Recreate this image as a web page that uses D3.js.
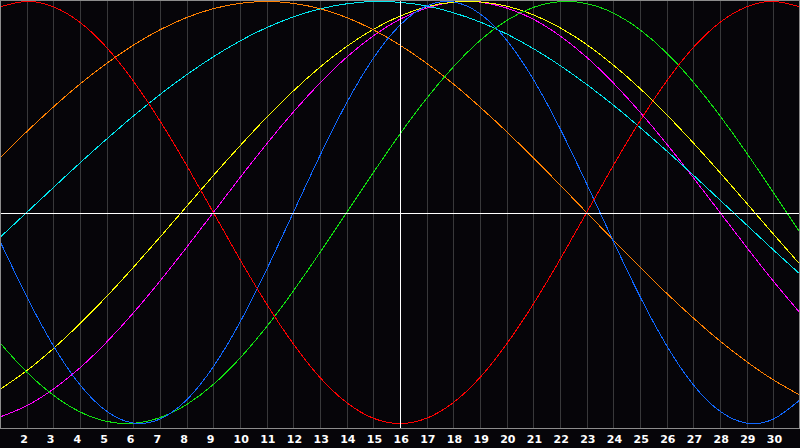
<!DOCTYPE html>
<html>
<head>
<meta charset="utf-8">
<script src="https://cdn.jsdelivr.net/npm/d3@7"></script>
<style>
  html, body { margin: 0; padding: 0; background: #060509; }
  svg { display: block; }
</style>
</head>
<body>
<svg id="chart" width="800" height="448"></svg>
<script>
// ---- data (values in percent, -100..100) ----
const days = [1,2,3,4,5,6,7,8,9,10,11,12,13,14,15,16,17,18,19,20,21,22,23,24,25,26,27,28,29,30,31];
const tickLabels = [2,3,4,5,6,7,8,9,10,11,12,13,14,15,16,17,18,19,20,21,22,23,24,25,26,27,28,29,30];
const todayDay = 16;

const redValues     = [97.5,100,97.5,90.1,78.2,62.3,43.4,22.3,0,-22.3,-43.4,-62.3,-78.2,-90.1,-97.5,-100,-97.5,-90.1,-78.2,-62.3,-43.4,-22.3,0,22.3,43.4,62.3,78.2,90.1,97.5,100,97.5];
const blueValues    = [-13.6,-39.8,-63.1,-81.7,-94.2,-99.8,-97.9,-88.8,-73.1,-52.0,-27.0,0,27.0,52.0,73.1,88.8,97.9,99.8,94.2,81.7,63.1,39.8,13.6,-13.6,-39.8,-63.1,-81.7,-94.2,-99.8,-97.9,-88.8];
const greenValues   = [-61.8,-75.6,-86.6,-94.5,-99.0,-99.9,-97.2,-91.0,-81.5,-69.0,-54.1,-37.2,-18.9,0,18.9,37.2,54.1,69.0,81.5,91.0,97.2,99.9,99.0,94.5,86.6,75.6,61.8,45.8,28.2,9.5,-9.5];
const orangeValues  = [25.9,38.3,50.0,60.9,70.7,79.3,86.6,92.4,96.6,99.1,100,99.1,96.6,92.4,86.6,79.3,70.7,60.9,50.0,38.3,25.9,13.1,0,-13.1,-25.9,-38.3,-50.0,-60.9,-70.7,-79.3,-86.6];
const cyanValues    = [-11.8,0,11.8,23.5,34.8,45.7,55.9,65.3,73.8,81.3,87.6,92.7,96.5,98.9,100.0,99.6,97.9,94.7,90.3,84.6,77.7,69.7,60.7,50.9,40.3,29.2,17.7,5.9,-5.9,-17.7,-29.2];
const yellowValues  = [-83.8,-75.0,-64.5,-52.7,-39.8,-26.0,-11.7,2.9,17.5,31.6,45.1,57.6,68.9,78.7,86.8,93.1,97.5,99.7,99.8,97.8,93.7,87.6,79.6,69.9,58.8,46.4,33.0,18.9,4.4,-10.2,-24.6];
const magentaValues = [-96.9,-91.6,-83.7,-73.6,-61.4,-47.6,-32.5,-16.5,0,16.5,32.5,47.6,61.4,73.6,83.7,91.6,96.9,99.7,99.7,96.9,91.6,83.7,73.6,61.4,47.6,32.5,16.5,0,-16.5,-32.5,-47.6];

const seriesNames  = ["magenta","yellow","cyan","orange","green","blue","red"];
const seriesColors = ["#ff00ff","#ffff00","#00e8f0","#ff8000","#10e010","#1068ff","#ff0000"];
const seriesValues = [magentaValues,yellowValues,cyanValues,orangeValues,greenValues,blueValues,redValues];

// ---- drawing ----
const W = 800, H = 448, plotBottom = 428;
const svg = d3.select("#chart");

svg.append("rect").attr("x",0).attr("y",0).attr("width",W).attr("height",H).attr("fill","#060509");

const x = d3.scaleLinear().domain([1,31]).range([0,800]);
const y = d3.scaleLinear().domain([-100,100]).range([423.5,1.5]);

// vertical grid lines
svg.append("g").selectAll("line").data(tickLabels.filter(d => d !== todayDay)).join("line")
  .attr("x1", d => Math.round(x(d)) + 0.5).attr("x2", d => Math.round(x(d)) + 0.5)
  .attr("y1", 0).attr("y2", plotBottom)
  .attr("stroke", "#38383a").attr("stroke-width", 1)
  .attr("shape-rendering","crispEdges");

// curves
const line = d3.line().x(d => x(d[0])).y(d => y(d[1])).curve(d3.curveNatural);
svg.append("defs").append("clipPath").attr("id","plotclip")
  .append("rect").attr("x",0).attr("y",0).attr("width",W).attr("height",plotBottom);

const curves = svg.append("g").attr("clip-path","url(#plotclip)");
seriesValues.forEach((vals, i) => {
  curves.append("path")
    .datum(days.map((d, j) => [d, vals[j]]))
    .attr("fill","none")
    .attr("stroke", seriesColors[i])
    .attr("stroke-width", 1)
    .attr("shape-rendering","crispEdges")
    .attr("d", line);
});

// zero line and today line
svg.append("line")
  .attr("x1",0).attr("x2",W)
  .attr("y1", Math.round(y(0)) + 0.5).attr("y2", Math.round(y(0)) + 0.5)
  .attr("stroke","#ffffff").attr("shape-rendering","crispEdges");
svg.append("line")
  .attr("x1", Math.round(x(todayDay)) + 0.5).attr("x2", Math.round(x(todayDay)) + 0.5)
  .attr("y1", 0).attr("y2", plotBottom)
  .attr("stroke","#ffffff").attr("shape-rendering","crispEdges");

// frame
svg.append("rect").attr("x",0.5).attr("y",0.5).attr("width",799).attr("height",plotBottom)
  .attr("fill","none").attr("stroke","#8c8c8c").attr("shape-rendering","crispEdges");

// axis labels
const axis = d3.axisBottom(x).tickValues(tickLabels).tickSize(0).tickFormat(d3.format("d"));
const ag = svg.append("g").attr("transform", `translate(0,${plotBottom})`).call(axis);
ag.select(".domain").remove();
ag.selectAll("text")
  .attr("y", 15).attr("dy", 0)
  .attr("text-anchor","start").attr("dx", -7)
  .attr("fill","#ffffff")
  .style("font-family","'DejaVu Sans', sans-serif")
  .style("font-weight","bold")
  .style("font-size","11px");
</script>
</body>
</html>
